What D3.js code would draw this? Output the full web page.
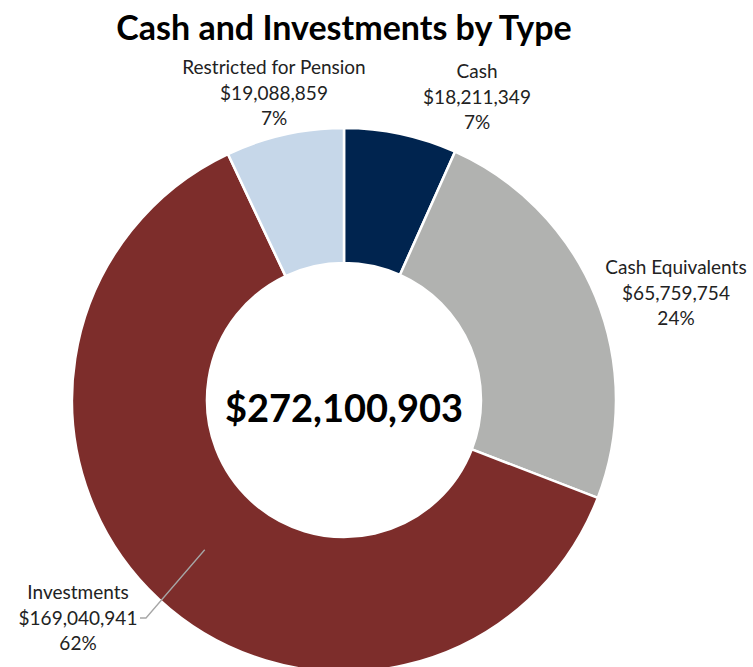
<!DOCTYPE html>
<html>
<head>
<meta charset="utf-8">
<script src="https://cdn.jsdelivr.net/npm/d3@7"></script>
<style>
  html, body { margin: 0; padding: 0; background: #fff; }
  svg { display: block; }
  text { font-family: Lato, "Open Sans", sans-serif; }
</style>
</head>
<body>
<svg id="chart" width="753" height="667"></svg>
<script>
// Cash and investment holdings, listed clockwise from twelve o'clock
const categories = ["Cash", "Cash Equivalents", "Investments", "Restricted for Pension"];
const amounts = [18211349, 65759754, 169040941, 19088859];
const percentLabels = ["7%", "24%", "62%", "7%"];
const sliceColors = ["#00244f", "#b1b2b0", "#7d2d2b", "#c6d7e9"];

const width = 753, height = 667;
const cx = 344, cy = 400;
const outerR = 272, innerR = 137;

const svg = d3.select("#chart");

svg.append("text")
  .attr("x", 344).attr("y", 40)
  .attr("text-anchor", "middle")
  .attr("font-weight", 700)
  .attr("font-size", 34)
  .attr("fill", "#000")
  .text("Cash and Investments by Type");

const pie = d3.pie().sort(null).value(d => d.value);
const data = categories.map((c, i) => ({ name: c, value: amounts[i], pct: percentLabels[i], color: sliceColors[i] }));
const arcs = pie(data);

const arc = d3.arc().innerRadius(innerR).outerRadius(outerR);
const midArc = d3.arc().innerRadius((innerR + outerR) / 2).outerRadius((innerR + outerR) / 2);

const g = svg.append("g").attr("transform", `translate(${cx},${cy})`);

g.selectAll("path.slice")
  .data(arcs)
  .join("path")
  .attr("class", "slice")
  .attr("d", arc)
  .attr("fill", d => d.data.color)
  .attr("stroke", "#fff")
  .attr("stroke-width", 2.5);

// total in the hole
const total = d3.sum(amounts);
g.append("text")
  .attr("x", 0).attr("y", 22)
  .attr("text-anchor", "middle")
  .attr("font-weight", 700)
  .attr("font-size", 38)
  .attr("fill", "#000")
  .text(d3.format("$,")(total));

// label placement for each slice (center x, first-line baseline y)
const labelPos = {
  "Cash": [477, 78],
  "Cash Equivalents": [676, 274],
  "Investments": [78, 599],
  "Restricted for Pension": [274, 74]
};
const fmt = d3.format("$,");

const labels = svg.append("g");
arcs.forEach(a => {
  const [lx, ly] = labelPos[a.data.name];
  const t = labels.append("text")
    .attr("text-anchor", "middle")
    .attr("font-size", 19)
    .attr("fill", "#222");
  [a.data.name, fmt(a.data.value), a.data.pct].forEach((s, i) => {
    t.append("tspan").attr("x", lx).attr("y", ly + i * 25.5).text(s);
  });
});

// leader line for the Investments label
const inv = arcs.find(a => a.data.name === "Investments");
const [ix, iy] = midArc.centroid(inv);
svg.append("polyline")
  .attr("points", `${140},${618} ${146},${618} ${cx + ix},${cy + iy}`)
  .attr("fill", "none")
  .attr("stroke", "#a6a6a6")
  .attr("stroke-width", 1.3);
</script>
</body>
</html>
